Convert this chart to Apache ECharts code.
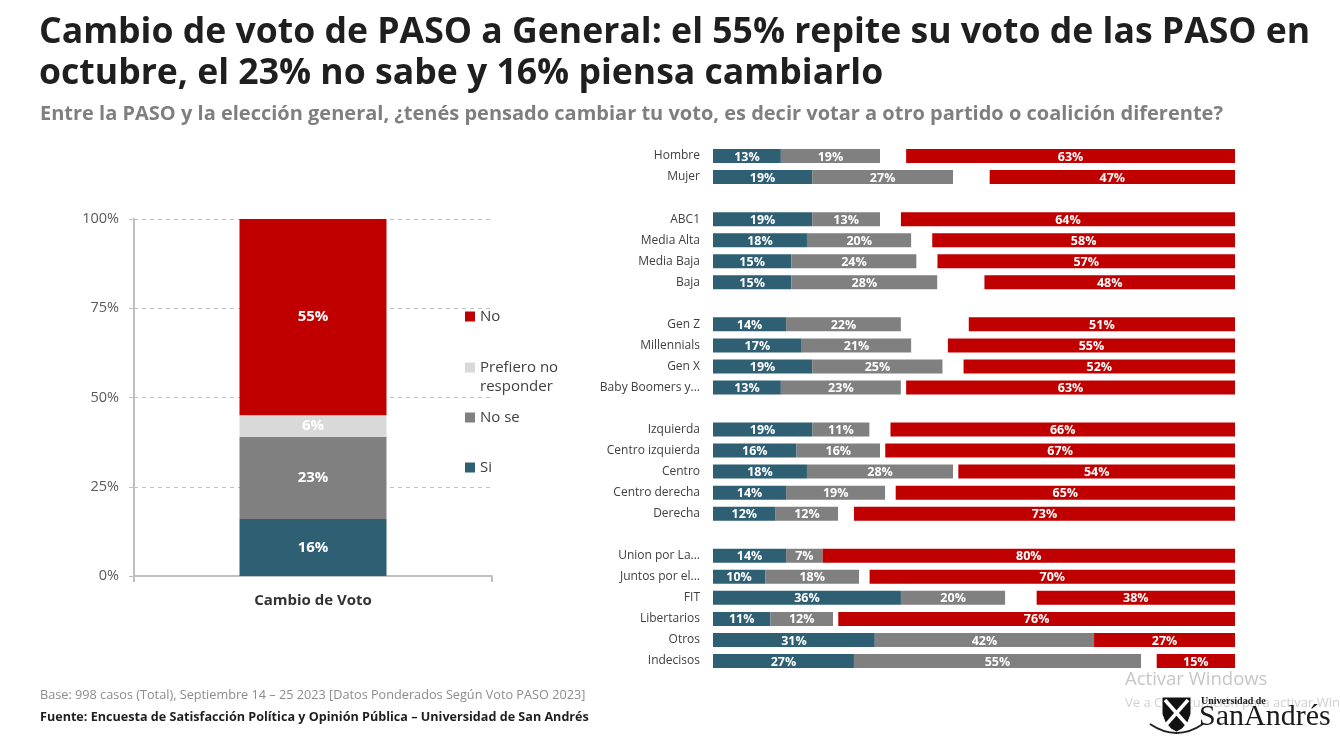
<!DOCTYPE html>
<html>
<head>
<meta charset="utf-8">
<title>Cambio de voto de PASO a General</title>
<script src="https://cdn.jsdelivr.net/npm/echarts@6/dist/echarts.min.js"></script>
<style>
  html, body { margin: 0; padding: 0; background: #fff; }
  #main { width: 1340px; height: 738px; }
</style>
</head>
<body>
<div id="main"></div>
<script>
// --- datos: gráfico total (izquierda) ---
var totalCategory = ['Cambio de Voto'];
var totalSi = [16];
var totalNoSe = [23];
var totalPrefiero = [6];
var totalNo = [55];
var yTicks = [0, 25, 50, 75, 100];

// --- datos: aperturas (derecha); filas en blanco separan los grupos ---
var rowLabels = [
    'Hombre', 'Mujer', ' ',
    'ABC1', 'Media Alta', 'Media Baja', 'Baja', '  ',
    'Gen Z', 'Millennials', 'Gen X', 'Baby Boomers y...', '   ',
    'Izquierda', 'Centro izquierda', 'Centro', 'Centro derecha', 'Derecha', '    ',
    'Union por La...', 'Juntos por el...', 'FIT', 'Libertarios', 'Otros', 'Indecisos'
];
var rowSi =       [13, 19, '-', 19, 18, 15, 15, '-', 14, 17, 19, 13, '-', 19, 16, 18, 14, 12, '-', 14, 10, 36, 11, 31, 27];
var rowNoSe =     [19, 27, '-', 13, 20, 24, 28, '-', 22, 21, 25, 23, '-', 11, 16, 28, 19, 12, '-', 7, 18, 20, 12, 42, 55];
var rowPrefiero = [5, 7, '-', 4, 4, 4, 9, '-', 13, 7, 4, 1, '-', 4, 1, 1, 2, 3, '-', 0, 2, 6, 1, 0, 3];
var rowNo =       [63, 47, '-', 64, 58, 57, 48, '-', 51, 55, 52, 63, '-', 66, 67, 54, 65, 73, '-', 80, 70, 38, 76, 27, 15];

var COLOR_SI = '#2e5f73';
var COLOR_NOSE = '#808080';
var COLOR_PREF = '#d9d9d9';
var COLOR_NO = '#c00000';
var FONT = '"Open Sans", "Noto Sans", sans-serif';
var SERIF = '"Liberation Serif", "DejaVu Serif", serif';

var chartDom = document.getElementById('main');
var myChart = echarts.init(chartDom);
var option;

function pct(p) {
    return p.value + '%';
}

function leftBar(name, data, color) {
    return {
        name: name,
        type: 'bar',
        stack: 'total',
        xAxisIndex: 0,
        yAxisIndex: 0,
        data: data,
        barWidth: 147,
        itemStyle: { color: color },
        label: {
            show: true,
            position: 'inside',
            formatter: pct,
            color: '#fff',
            fontFamily: FONT,
            fontWeight: 'bold',
            fontSize: 15
        }
    };
}

function rightBar(name, data, color, showLabel) {
    return {
        name: name,
        type: 'bar',
        stack: 'rows',
        xAxisIndex: 1,
        yAxisIndex: 1,
        data: data,
        barWidth: 14,
        itemStyle: { color: color },
        label: {
            show: showLabel,
            position: 'inside',
            offset: [0, 1],
            formatter: pct,
            color: '#fff',
            fontFamily: FONT,
            fontWeight: 'bold',
            fontSize: 12.5
        }
    };
}

function legendItem(name, color, top, label) {
    return {
        orient: 'vertical',
        left: 465,
        top: top,
        padding: 0,
        itemWidth: 10,
        itemHeight: 10,
        icon: 'rect',
        selectedMode: false,
        formatter: function () { return label || name; },
        textStyle: { color: '#404040', fontSize: 15, fontFamily: FONT },
        data: [{ name: name, itemStyle: { color: color } }]
    };
}

option = {
    backgroundColor: '#fff',
    animation: false,
    textStyle: { fontFamily: FONT },
    title: [
        {
            text: 'Cambio de voto de PASO a General: el 55% repite su voto de las PASO en\noctubre, el 23% no sabe y 16% piensa cambiarlo',
            left: 39,
            top: 12,
            padding: 0,
            textStyle: { color: '#1f1f1f', fontSize: 35.6, fontWeight: 'bold', lineHeight: 41, fontFamily: FONT }
        },
        {
            text: 'Entre la PASO y la elección general, ¿tenés pensado cambiar tu voto, es decir votar a otro partido o coalición diferente?',
            left: 40,
            top: 103,
            padding: 0,
            textStyle: { color: '#7f7f7f', fontSize: 20, fontWeight: 'bold', lineHeight: 22, fontFamily: FONT }
        },
        {
            text: 'Base: 998 casos (Total), Septiembre 14 – 25 2023 [Datos Ponderados Según Voto PASO 2023]',
            left: 40,
            top: 687,
            padding: 0,
            textStyle: { color: '#8c8c8c', fontSize: 12.7, fontWeight: 'normal', lineHeight: 16, fontFamily: FONT }
        },
        {
            text: 'Fuente: Encuesta de Satisfacción Política y Opinión Pública – Universidad de San Andrés',
            left: 40,
            top: 709,
            padding: 0,
            textStyle: { color: '#1f1f1f', fontSize: 12.6, fontWeight: 'bold', lineHeight: 16, fontFamily: FONT }
        }
    ],
    legend: [
        legendItem('No', COLOR_NO, 309),
        legendItem('Prefiero no responder', COLOR_PREF, 360, 'Prefiero no'),
        legendItem('No se', COLOR_NOSE, 410),
        legendItem('Si', COLOR_SI, 460)
    ],
    grid: [
        { left: 134, right: 848, top: 219, bottom: 162 },
        { left: 713, right: 105, top: 145.5, bottom: 66.5 }
    ],
    xAxis: [
        {
            type: 'category',
            gridIndex: 0,
            data: totalCategory,
            axisLine: { lineStyle: { color: '#bfbfbf', width: 2 } },
            axisTick: { show: true, length: 6, lineStyle: { color: '#bfbfbf', width: 2 } },
            axisLabel: { color: '#333', fontSize: 15, fontWeight: 'bold', margin: 17, fontFamily: FONT }
        },
        {
            type: 'value',
            gridIndex: 1,
            min: 0,
            max: 100,
            show: false,
            splitLine: { show: false }
        }
    ],
    yAxis: [
        {
            type: 'value',
            gridIndex: 0,
            min: yTicks[0],
            max: yTicks[yTicks.length - 1],
            interval: yTicks[1] - yTicks[0],
            axisLine: { show: true, lineStyle: { color: '#bfbfbf', width: 2 } },
            axisTick: { show: true, length: 5, lineStyle: { color: '#bfbfbf' } },
            axisLabel: { formatter: '{value}%', color: '#595959', fontSize: 14.5, margin: 15, fontFamily: FONT },
            splitLine: { show: true, lineStyle: { color: '#bfbfbf', type: [4, 4], width: 1 } }
        },
        {
            type: 'category',
            gridIndex: 1,
            inverse: true,
            data: rowLabels,
            axisLine: { show: false },
            axisTick: { show: false },
            axisLabel: { color: '#404040', fontSize: 12, margin: 13, fontFamily: FONT, interval: 0 }
        }
    ],
    graphic: [
        {
            type: 'text',
            left: 480,
            top: 379,
            silent: true,
            style: { text: 'responder', fill: '#404040', fontSize: 15, fontFamily: FONT }
        },
        {
            type: 'text',
            left: 1125,
            top: 670,
            silent: true,
            style: { text: 'Activar Windows', fill: '#c6c6c6', fontSize: 18.5, fontFamily: FONT }
        },
        {
            type: 'text',
            left: 1125,
            top: 697,
            silent: true,
            style: { text: 'Ve a Configuración para activar Windows', fill: '#d0d0d0', fontSize: 13, fontFamily: FONT }
        },
        // escudo simplificado del logo
        {
            type: 'polygon',
            silent: true,
            shape: {
                points: [[1162, 697], [1191, 697], [1191, 714], [1188, 722], [1182, 729], [1176.5, 732],
                         [1171, 729], [1165, 722], [1162, 714]]
            },
            style: { fill: '#111', stroke: '#fff', lineWidth: 1 }
        },
        {
            type: 'line',
            silent: true,
            shape: { x1: 1165, y1: 700, x2: 1188, y2: 726 },
            style: { stroke: '#fff', lineWidth: 3.5 }
        },
        {
            type: 'line',
            silent: true,
            shape: { x1: 1188, y1: 700, x2: 1165, y2: 726 },
            style: { stroke: '#fff', lineWidth: 3.5 }
        },
        {
            type: 'bezierCurve',
            silent: true,
            shape: { x1: 1150, y1: 724, x2: 1203, y2: 724, cpx1: 1176.5, cpy1: 742 },
            style: { fill: null, stroke: '#222', lineWidth: 2 }
        },
        {
            type: 'text',
            left: 1201,
            top: 696,
            silent: true,
            style: { text: 'Universidad de', fill: '#1a1a1a', fontSize: 10, fontWeight: 'bold', fontFamily: SERIF }
        },
        {
            type: 'text',
            left: 1199,
            top: 702,
            silent: true,
            style: { text: 'SanAndrés', fill: '#1a1a1a', fontSize: 30, fontFamily: SERIF }
        }
    ],
    series: [
        leftBar('Si', totalSi, COLOR_SI),
        leftBar('No se', totalNoSe, COLOR_NOSE),
        leftBar('Prefiero no responder', totalPrefiero, COLOR_PREF),
        leftBar('No', totalNo, COLOR_NO),
        rightBar('Si', rowSi, COLOR_SI, true),
        rightBar('No se', rowNoSe, COLOR_NOSE, true),
        rightBar('Prefiero no responder', rowPrefiero, '#ffffff', false),
        rightBar('No', rowNo, COLOR_NO, true)
    ]
};

option && myChart.setOption(option);

window.addEventListener('resize', function () {
    myChart.resize();
});
</script>
</body>
</html>
